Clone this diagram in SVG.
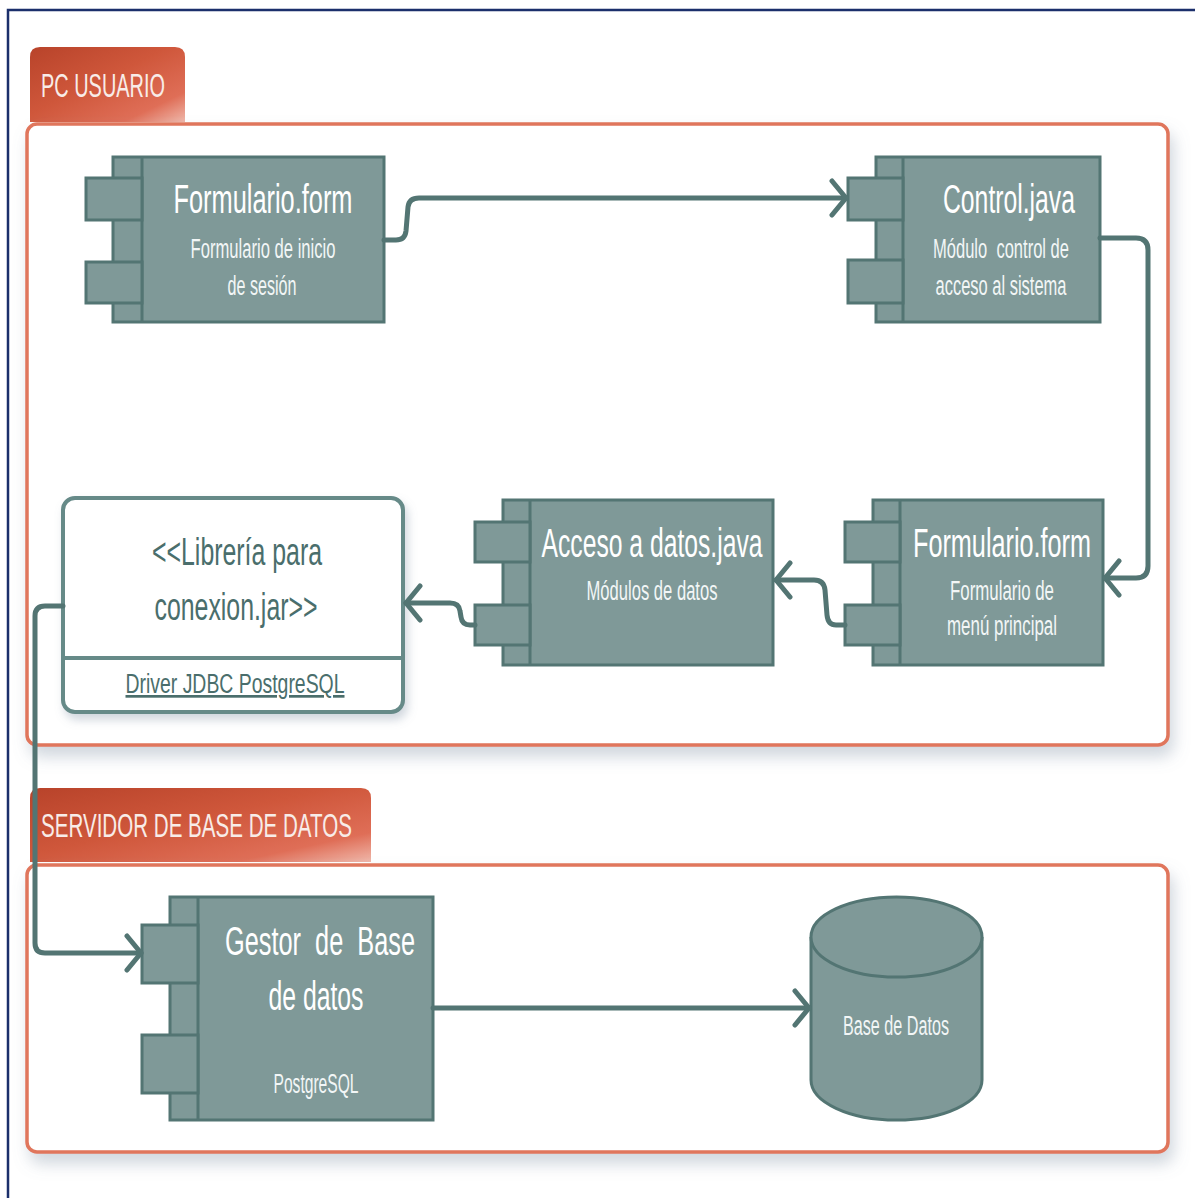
<svg xmlns="http://www.w3.org/2000/svg" width="1195" height="1198" viewBox="0 0 1195 1198">
  <defs>
    <linearGradient id="tabFill" x1="0" y1="0" x2="1" y2="1">
      <stop offset="0" stop-color="#b8432a"/>
      <stop offset="0.45" stop-color="#cf573b"/>
      <stop offset="0.8" stop-color="#df6e57"/>
      <stop offset="1" stop-color="#f0b8ab"/>
    </linearGradient>
    <filter id="softShadow" x="-10%" y="-10%" width="125%" height="135%">
      <feDropShadow dx="4" dy="10" stdDeviation="8" flood-color="#7a8aa0" flood-opacity="0.35"/>
    </filter>
    <filter id="boxShadow" x="-10%" y="-10%" width="130%" height="135%">
      <feDropShadow dx="3" dy="6" stdDeviation="5" flood-color="#7a8aa0" flood-opacity="0.35"/>
    </filter>
    <marker id="openArrow" markerUnits="userSpaceOnUse" markerWidth="30" markerHeight="40" viewBox="-18 -20 22 40" refX="0" refY="0" orient="auto">
      <path d="M-14,-17 L0,0 L-14,17" fill="none" stroke="#537573" stroke-width="5" stroke-linecap="round" stroke-linejoin="round"/>
    </marker>
  </defs>
  <style>
    .frame { fill: none; stroke: #1b2f6b; stroke-width: 2.5; }
    .container { fill: #ffffff; stroke: #e0765c; stroke-width: 3.5; }
    .tab { fill: url(#tabFill); }
    .tabText { font-family: "Liberation Sans", Arial, sans-serif; font-size: 33px; fill: #f8ece8; }
    .comp { fill: #7f9998; stroke: #537573; stroke-width: 3; }
    .title { font-family: "Liberation Sans", Arial, sans-serif; font-size: 40px; fill: #ffffff; text-anchor: middle; }
    .sub { font-family: "Liberation Sans", Arial, sans-serif; font-size: 27px; fill: #f2f6f6; text-anchor: middle; }
    .lib { fill: #ffffff; stroke: #668a88; stroke-width: 4; }
    .libText { font-family: "Liberation Sans", Arial, sans-serif; font-size: 38px; fill: #4a6e6c; text-anchor: middle; }
    .libSub { font-family: "Liberation Sans", Arial, sans-serif; font-size: 27px; fill: #4a6e6c; text-anchor: middle; text-decoration: underline; }
    .link { fill: none; stroke: #537573; stroke-width: 5; stroke-linecap: round; stroke-linejoin: round; }
  </style>

  <!-- page frame (left and top edges) -->
  <path class="frame" d="M8,1198 V10 H1195"/>

  <!-- PC USUARIO package -->
  <g id="pc-usuario">
    <path class="tab" d="M30,122 V57 Q30,47 40,47 H175 Q185,47 185,57 V122 Z"/>
    <text class="tabText" x="41" y="97" textLength="124" lengthAdjust="spacingAndGlyphs">PC USUARIO</text>
    <rect class="container" x="27" y="124" width="1141" height="621" rx="10" filter="url(#softShadow)"/>
  </g>

  <!-- SERVIDOR DE BASE DE DATOS package -->
  <g id="servidor">
    <path class="tab" d="M30,862 V798 Q30,788 40,788 H361 Q371,788 371,798 V862 Z"/>
    <text class="tabText" x="41" y="837" textLength="311" lengthAdjust="spacingAndGlyphs">SERVIDOR DE BASE DE DATOS</text>
    <rect class="container" x="27" y="865" width="1141" height="287" rx="10" filter="url(#softShadow)"/>
  </g>

  <!-- Formulario.form (login) -->
  <g id="formulario-login">
    <rect class="comp" x="113" y="157" width="271" height="165"/>
    <line class="comp" x1="142" y1="157" x2="142" y2="322"/>
    <rect class="comp" x="86" y="178" width="56" height="42"/>
    <rect class="comp" x="86" y="262" width="56" height="41"/>
    <text class="title" x="263" y="213" textLength="179" lengthAdjust="spacingAndGlyphs">Formulario.form</text>
    <text class="sub" x="263" y="258" textLength="145" lengthAdjust="spacingAndGlyphs">Formulario de inicio</text>
    <text class="sub" x="262" y="295" textLength="69" lengthAdjust="spacingAndGlyphs">de sesión</text>
  </g>

  <!-- Control.java -->
  <g id="control-java">
    <rect class="comp" x="876" y="157" width="224" height="165"/>
    <line class="comp" x1="903" y1="157" x2="903" y2="322"/>
    <rect class="comp" x="848" y="178" width="55" height="42"/>
    <rect class="comp" x="848" y="260" width="55" height="43"/>
    <text class="title" x="1009" y="213" textLength="132" lengthAdjust="spacingAndGlyphs">Control.java</text>
    <text class="sub" x="1001" y="258" textLength="136" lengthAdjust="spacingAndGlyphs" xml:space="preserve">Módulo  control de</text>
    <text class="sub" x="1001" y="295" textLength="131" lengthAdjust="spacingAndGlyphs">acceso al sistema</text>
  </g>

  <!-- Formulario.form (menu) -->
  <g id="formulario-menu">
    <rect class="comp" x="873" y="500" width="230" height="165"/>
    <line class="comp" x1="900" y1="500" x2="900" y2="665"/>
    <rect class="comp" x="845" y="522" width="55" height="40"/>
    <rect class="comp" x="845" y="605" width="55" height="40"/>
    <text class="title" x="1002" y="557" textLength="178" lengthAdjust="spacingAndGlyphs">Formulario.form</text>
    <text class="sub" x="1002" y="600" textLength="104" lengthAdjust="spacingAndGlyphs">Formulario de</text>
    <text class="sub" x="1002" y="635" textLength="110" lengthAdjust="spacingAndGlyphs">menú principal</text>
  </g>

  <!-- Acceso a datos.java -->
  <g id="acceso-datos">
    <rect class="comp" x="503" y="500" width="270" height="165"/>
    <line class="comp" x1="530" y1="500" x2="530" y2="665"/>
    <rect class="comp" x="475" y="522" width="55" height="40"/>
    <rect class="comp" x="475" y="605" width="55" height="40"/>
    <text class="title" x="652" y="557" textLength="221" lengthAdjust="spacingAndGlyphs">Acceso a datos.java</text>
    <text class="sub" x="652" y="600" textLength="131" lengthAdjust="spacingAndGlyphs">Módulos de datos</text>
  </g>

  <!-- Librería para conexion.jar -->
  <g id="libreria">
    <rect class="lib" x="63" y="498" width="340" height="214" rx="12" filter="url(#boxShadow)"/>
    <line class="lib" x1="63" y1="658" x2="403" y2="658"/>
    <text class="libText" x="237" y="565" textLength="170" lengthAdjust="spacingAndGlyphs">&lt;&lt;Librería para</text>
    <text class="libText" x="236" y="620" textLength="163" lengthAdjust="spacingAndGlyphs">conexion.jar&gt;&gt;</text>
    <text class="libSub" x="235" y="693" textLength="219" lengthAdjust="spacingAndGlyphs">Driver JDBC PostgreSQL</text>
  </g>

  <!-- Gestor de Base de datos -->
  <g id="gestor">
    <rect class="comp" x="170" y="897" width="263" height="223"/>
    <line class="comp" x1="198" y1="897" x2="198" y2="1120"/>
    <rect class="comp" x="142" y="925" width="56" height="58"/>
    <rect class="comp" x="142" y="1035" width="56" height="58"/>
    <text class="title" x="320" y="955" textLength="190" lengthAdjust="spacingAndGlyphs" xml:space="preserve">Gestor  de  Base</text>
    <text class="title" x="316" y="1010" textLength="95" lengthAdjust="spacingAndGlyphs">de datos</text>
    <text class="sub" x="316" y="1093" textLength="85" lengthAdjust="spacingAndGlyphs">PostgreSQL</text>
  </g>

  <!-- Base de Datos -->
  <g id="base-datos">
    <path class="comp" d="M811,937 V1080 A85.5,40 0 0 0 982,1080 V937"/>
    <ellipse class="comp" cx="896.5" cy="937" rx="85.5" ry="40"/>
    <text class="sub" x="896" y="1035" font-size="25" textLength="106" lengthAdjust="spacingAndGlyphs">Base de Datos</text>
  </g>

  <!-- connectors -->
  <g id="connectors">
    <path class="link" marker-end="url(#openArrow)" d="M384,240 H396 Q405,240 406,231 L408,207 Q409,198 419,198 H846"/>
    <path class="link" marker-end="url(#openArrow)" d="M1100,238 H1136 Q1148,238 1148,250 V566 Q1148,578 1136,578 H1105"/>
    <path class="link" marker-end="url(#openArrow)" d="M845,625 H836 Q828,625 827,615 L825,590 Q824,580 814,580 H776"/>
    <path class="link" marker-end="url(#openArrow)" d="M475,625 H470 Q462,625 461,617 L460,611 Q459,603 450,603 H406"/>
    <path class="link" marker-end="url(#openArrow)" d="M63,606 H45 Q35,606 35,616 V943 Q35,953 45,953 H141"/>
    <path class="link" marker-end="url(#openArrow)" d="M433,1008 H809"/>
  </g>
</svg>
